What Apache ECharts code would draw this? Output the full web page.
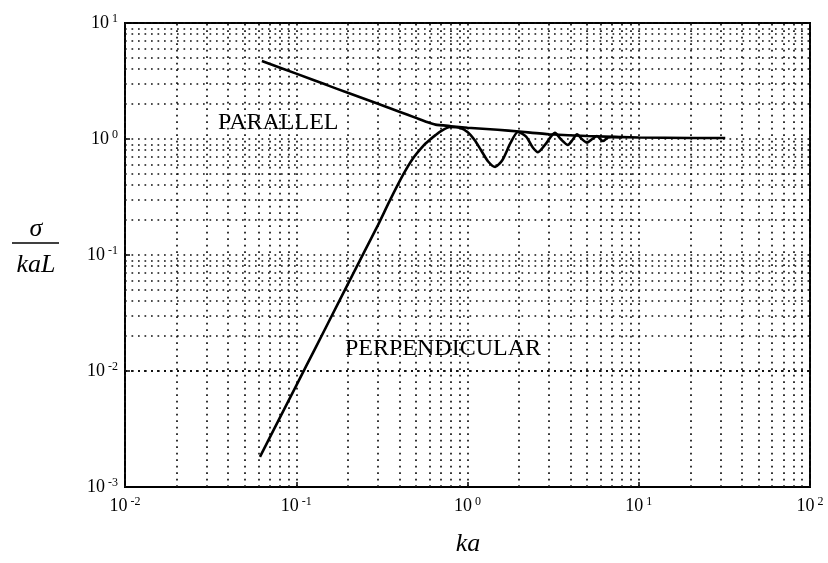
<!DOCTYPE html>
<html>
<head>
<meta charset="utf-8">
<script src="https://cdn.jsdelivr.net/npm/echarts@6/dist/echarts.min.js"></script>
<style>
  html, body { margin: 0; padding: 0; background: #fff; }
  #chart { width: 828px; height: 563px; }
</style>
</head>
<body>
<div id="chart"></div>
<script>
// Normalised scattering width of a thin wire vs electrical size ka
const kaParallel = [0.063, 0.1, 0.15, 0.2, 0.3, 0.4, 0.5, 0.58, 0.65, 0.8, 1.0, 1.5, 2, 3, 5, 10, 20, 32];
const sigmaParallel = [4.7, 3.66, 2.93, 2.5, 2.01, 1.72, 1.52, 1.4, 1.33, 1.29, 1.25, 1.2, 1.16, 1.1, 1.06, 1.03, 1.02, 1.02];

const kaPerpendicular = [0.0614, 0.08, 0.1, 0.13, 0.18, 0.25, 0.3, 0.35, 0.42, 0.48, 0.55, 0.6, 0.65, 0.7, 0.79, 0.9, 1.0, 1.1, 1.2, 1.32, 1.45, 1.6, 1.78, 1.97, 2.2, 2.4, 2.58, 2.85, 3.24, 3.5, 3.86, 4.1, 4.36, 4.65, 4.99, 5.35, 5.7, 6.17, 6.6, 7.0, 8.0];
const sigmaPerpendicular = [0.00182, 0.00392, 0.00749, 0.016, 0.0412, 0.107, 0.181, 0.29, 0.49, 0.68, 0.87, 0.98, 1.08, 1.17, 1.27, 1.25, 1.15, 0.98, 0.8, 0.64, 0.575, 0.66, 0.92, 1.15, 1.05, 0.85, 0.77, 0.9, 1.13, 1.0, 0.89, 0.98, 1.1, 1.0, 0.93, 1.0, 1.06, 0.96, 1.03, 1.04, 1.03];

// Axis ranges (decades) and grid multipliers
const xDecades = [-2, -1, 0, 1, 2];
const yDecades = [-3, -2, -1, 0, 1];
const gridMultipliers = [1, 2, 3, 4, 5, 6, 7, 8, 9];

const serif = '"Liberation Serif", "DejaVu Serif", serif';

function gridValues(decades) {
  const vals = [];
  for (let i = 0; i < decades.length - 1; i++) {
    for (const m of gridMultipliers) vals.push(m * Math.pow(10, decades[i]));
  }
  vals.push(Math.pow(10, decades[decades.length - 1]));
  return vals;
}

const gridLines = []
  .concat(gridValues(xDecades).map(v => ({ xAxis: v })))
  .concat(gridValues(yDecades).map(v => ({ yAxis: v })));

function powerLabel(v) {
  const e = Math.round(Math.log10(v));
  return '{b|10}{s|' + e + '}';
}

const labelRich = {
  b: { fontFamily: serif, fontSize: 18, color: '#000', lineHeight: 20 },
  s: { fontFamily: serif, fontSize: 12, color: '#000', lineHeight: 12, verticalAlign: 'top', padding: [0, 0, 0, 3] }
};

const chart = echarts.init(document.getElementById('chart'), null, { renderer: 'canvas' });

chart.setOption({
  animation: false,
  backgroundColor: '#fff',
  grid: {
    left: 125, top: 23, right: 18, bottom: 76,
    show: true, borderColor: '#000', borderWidth: 2, backgroundColor: 'transparent'
  },
  xAxis: {
    type: 'log', logBase: 10,
    min: Math.pow(10, xDecades[0]), max: Math.pow(10, xDecades[xDecades.length - 1]),
    axisLine: { show: true, lineStyle: { color: '#000', width: 2 } },
    axisTick: { show: true, inside: true, length: 5, lineStyle: { color: '#000', width: 1.5 } },
    splitLine: { show: false },
    axisLabel: { margin: 9, formatter: powerLabel, rich: labelRich }
  },
  yAxis: {
    type: 'log', logBase: 10,
    min: Math.pow(10, yDecades[0]), max: Math.pow(10, yDecades[yDecades.length - 1]),
    axisLine: { show: true, lineStyle: { color: '#000', width: 2 } },
    axisTick: { show: true, inside: true, length: 5, lineStyle: { color: '#000', width: 1.5 } },
    splitLine: { show: false },
    axisLabel: { margin: 7, formatter: powerLabel, rich: labelRich }
  },
  graphic: [
    { type: 'text', left: 218, top: 111, style: { text: 'PARALLEL', font: '24px ' + serif, fill: '#000' } },
    { type: 'text', left: 345, top: 337, style: { text: 'PERPENDICULAR', font: '24px ' + serif, fill: '#000' } },
    { type: 'text', x: 36, y: 229, style: { text: 'σ', font: 'italic 26px ' + serif, fill: '#000', textAlign: 'center', textVerticalAlign: 'middle' } },
    { type: 'line', shape: { x1: 12, y1: 243, x2: 59, y2: 243 }, style: { stroke: '#000', lineWidth: 1.5 } },
    { type: 'text', x: 36, y: 265, style: { text: 'kaL', font: 'italic 26px ' + serif, fill: '#000', textAlign: 'center', textVerticalAlign: 'middle' } },
    { type: 'text', x: 468, y: 544, style: { text: 'ka', font: 'italic 26px ' + serif, fill: '#000', textAlign: 'center', textVerticalAlign: 'middle' } }
  ],
  series: [
    {
      name: 'PARALLEL',
      type: 'line',
      data: kaParallel.map((k, i) => [k, sigmaParallel[i]]),
      showSymbol: false,
      smooth: 0.15,
      lineStyle: { color: '#000', width: 2.6 },
      z: 5,
      markLine: {
        silent: true,
        symbol: 'none',
        label: { show: false },
        lineStyle: { color: '#111', width: 1.7, type: [1.7, 4.8] },
        data: gridLines,
        z: 1
      }
    },
    {
      name: 'PERPENDICULAR',
      type: 'line',
      data: kaPerpendicular.map((k, i) => [k, sigmaPerpendicular[i]]),
      showSymbol: false,
      smooth: 0.25,
      lineStyle: { color: '#000', width: 2.6 },
      z: 5
    }
  ]
});
</script>
</body>
</html>
